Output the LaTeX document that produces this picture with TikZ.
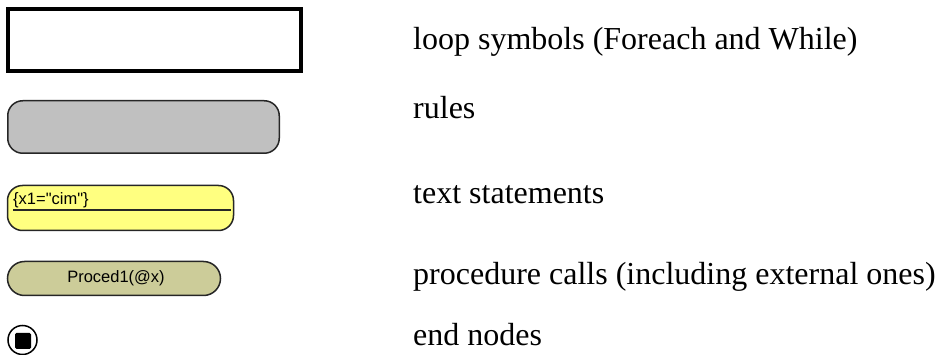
\documentclass[tikz,border=0pt]{standalone}
\usepackage{fontspec}
\setmainfont{Liberation Serif}
\newfontfamily\boxfont{Liberation Sans}
\begin{document}
\begin{tikzpicture}[x=1pt,y=-1pt,
  legendtext/.style={anchor=base west, inner sep=0pt, font=\fontsize{32}{38}\selectfont},
  boxtext/.style={inner sep=0pt, font=\boxfont\fontsize{16.5}{19}\selectfont},
  loopbox/.style={draw=black, line width=4pt, fill=white, minimum width=293pt, minimum height=62pt, inner sep=0pt},
  rulebox/.style={draw=black!85, line width=1.5pt, fill=rulegray, rounded corners=15pt, minimum width=271.5pt, minimum height=52.5pt, inner sep=0pt},
  textbox/.style={draw=black!85, line width=1.5pt, fill=textyellow, rounded corners=15pt, minimum width=226pt, minimum height=45pt, inner sep=0pt},
  procbox/.style={draw=black!85, line width=1.5pt, fill=prockhaki, rounded corners=17pt, minimum width=213pt, minimum height=34pt, inner sep=0pt},
  endring/.style={circle, draw=black, line width=1.5pt, fill=white, minimum size=29pt, inner sep=0pt},
  endsquare/.style={fill=black, rounded corners=1.5pt, minimum size=16pt, inner sep=0pt}
]
\definecolor{rulegray}{HTML}{C0C0C0}
\definecolor{textyellow}{HTML}{FFFF80}
\definecolor{prockhaki}{HTML}{CCCC99}
\useasboundingbox (0,0) rectangle (940,355);

% symbols
\node[loopbox] (loop) at (154.5,40) {};
\node[rulebox] (rule) at (143.5,127) {};
\node[textbox] (stmt) at (120.5,208) {};
\draw[line width=1.5pt, black!85] (13,210) coordinate (ulstart) -- (231,210) coordinate (ulend);
\node[boxtext, anchor=base west] (stmttext) at (13,205) {\{x1="cim"\}};
\node[procbox] (proc) at (114,278.5) {};
\node[boxtext, anchor=base] (proctext) at (116,282.5) {Proced1(@x)};
\node[endring] (endc) at (22.5,340) {};
\node[endsquare] (ends) at (23,341) {};

% descriptions
\node[legendtext] (l1) at (413,50) {loop symbols (Foreach and While)};
\node[legendtext] (l2) at (413,119) {rules};
\node[legendtext] (l3) at (413,204) {text statements};
\node[legendtext] (l4) at (413,285) {procedure calls (including external ones)};
\node[legendtext] (l5) at (413,346) {end nodes};
\end{tikzpicture}
\end{document}
